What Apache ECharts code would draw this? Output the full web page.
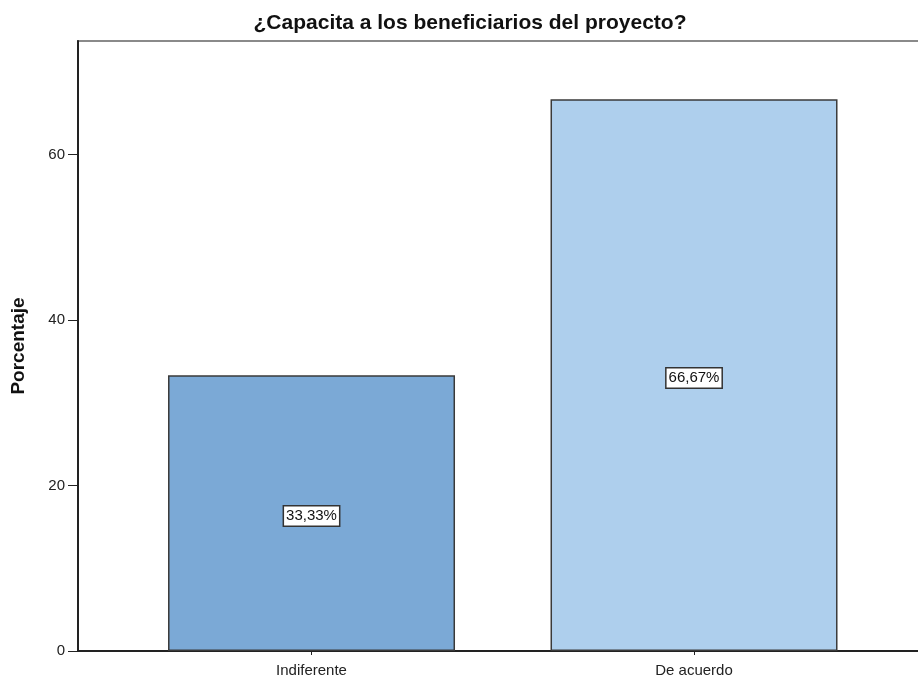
<!DOCTYPE html>
<html>
<head>
<meta charset="utf-8">
<script src="https://cdn.jsdelivr.net/npm/echarts@6/dist/echarts.min.js"></script>
<style>
  html, body { margin: 0; padding: 0; background: #fff; }
  #chart { width: 918px; height: 682px; }
</style>
</head>
<body>
<div id="chart"></div>
<script>
const categories = ['Indiferente', 'De acuerdo']
const percentages = [33.33, 66.67]
const barColors = ['#7ba9d6', '#aecfed']
const yTicks = [0, 20, 40, 60]

const FONT = '"Liberation Sans", Arial, sans-serif'

const chart = echarts.init(document.getElementById('chart'), null, { renderer: 'canvas' })

chart.setOption({
  backgroundColor: '#fff',
  animation: false,
  title: {
    text: '¿Capacita a los beneficiarios del proyecto?',
    left: 465,
    top: 8,
    textAlign: 'center',
    textStyle: { fontFamily: FONT, fontSize: 21, fontWeight: 'bold', color: '#111' },
  },
  grid: {
    left: 78,
    right: -2,
    top: 41,
    bottom: 31,
    outerBoundsMode: 'none',
    containLabel: false,
    show: true,
    borderColor: '#8a8a8a',
    borderWidth: 2,
  },
  xAxis: {
    type: 'value',
    min: -0.6105,
    max: 1.5908,
    splitLine: { show: false },
    axisLine: { show: true, onZero: false, lineStyle: { color: '#222', width: 2 } },
    axisTick: { show: true, customValues: [0, 1], length: 4, lineStyle: { color: '#222' } },
    axisLabel: {
      customValues: [0, 1],
      margin: 12,
      fontFamily: FONT,
      fontSize: 15,
      color: '#222',
      formatter: (v) => categories[Math.round(v)] || '',
    },
  },
  yAxis: {
    type: 'value',
    min: 0,
    max: 73.7,
    interval: 20,
    name: 'Porcentaje',
    nameLocation: 'middle',
    nameGap: 50,
    nameRotate: 90,
    nameTextStyle: { fontFamily: FONT, fontSize: 19, fontWeight: 'bold', color: '#111' },
    splitLine: { show: false },
    axisLine: { show: true, onZero: false, lineStyle: { color: '#222', width: 2 } },
    axisTick: { show: true, length: 10, lineStyle: { color: '#222' } },
    axisLabel: {
      margin: 13,
      fontFamily: FONT,
      fontSize: 15,
      color: '#222',
      showMaxLabel: false,
      formatter: (v) => (yTicks.includes(v) ? String(v) : ''),
    },
  },
  series: [
    {
      type: 'bar',
      barWidth: 287,
      data: percentages.map((p, i) => ({
        value: [i, p],
        itemStyle: { color: barColors[i] },
      })),
      itemStyle: { borderColor: '#3a3a3a', borderWidth: 1.5 },
      label: {
        show: true,
        position: 'inside',
        offset: [0, 3],
        fontFamily: FONT,
        fontSize: 15,
        color: '#111',
        backgroundColor: '#fff',
        borderColor: '#333',
        borderWidth: 1.5,
        padding: [3, 2, 1, 2],
        formatter: (p) => p.value[1].toFixed(2).replace('.', ',') + '%',
      },
    },
  ],
})
</script>
</body>
</html>
